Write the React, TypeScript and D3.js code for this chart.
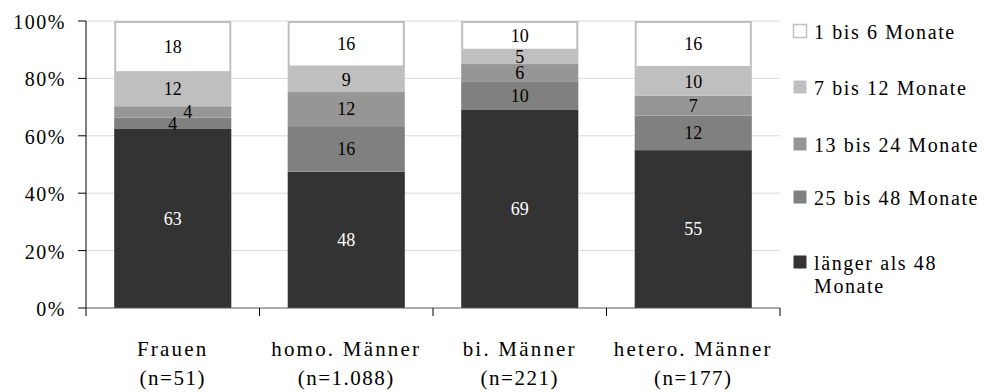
import React from "react";
import * as d3 from "d3";

const categories = ["Frauen", "homo. Männer", "bi. Männer", "hetero. Männer"];
const sampleSizes = ["(n=51)", "(n=1.088)", "(n=221)", "(n=177)"];
const seriesKeys = ["laenger48", "m25bis48", "m13bis24", "m7bis12", "m1bis6"];
const seriesNames = ["länger als 48 Monate", "25 bis 48 Monate", "13 bis 24 Monate", "7 bis 12 Monate", "1 bis 6 Monate"];
const laenger48 = [63, 48, 69, 55];
const m25bis48 = [4, 16, 10, 12];
const m13bis24 = [4, 12, 6, 7];
const m7bis12 = [12, 9, 5, 10];
const m1bis6 = [18, 16, 10, 16];
const yTicks = [0, 20, 40, 60, 80, 100];

const fills = ["#333333", "#808080", "#969696", "#bfbfbf", "#ffffff"];
const strokes = ["none", "none", "none", "none", "#bfbfbf"];
const labelColors = ["#ffffff", "#000000", "#000000", "#000000", "#000000"];

const W = 987;
const H = 392;
const left = 86;
const right = 780;
const top = 21;
const bottom = 308;
const FONT = "'Liberation Serif', 'Times New Roman', serif";

export default function App() {
  const series = [laenger48, m25bis48, m13bis24, m7bis12, m1bis6];
  const rows = categories.map((c, i) => {
    const r: any = { cat: c };
    seriesKeys.forEach((k, j) => (r[k] = series[j][i]));
    return r;
  });
  const stacked = d3.stack<any>().keys(seriesKeys).offset(d3.stackOffsetExpand)(rows);

  const x = d3.scaleBand<string>().domain(categories).range([left, right]).paddingInner(0.325).paddingOuter(0.1625);
  const y = d3.scaleLinear().domain([0, 1]).range([bottom, top]);
  const step = x.step();
  const boundaries = d3.range(categories.length + 1).map((i) => left + i * step);

  const legendBaselines = [39, 95, 152, 205, 270];
  const legendOrder = [4, 3, 2, 1, 0];

  return (
    <svg width={W} height={H} style={{ position: "absolute", left: 0, top: 0, background: "#fff" }} fontFamily={FONT}>
      {yTicks.filter((t) => t > 0).map((t) => (
        <line key={"g" + t} x1={left} x2={right} y1={y(t / 100)} y2={y(t / 100)} stroke="#d9d9d9" strokeWidth={1} />
      ))}
      {stacked.map((layer, j) =>
        layer.map((d, i) => {
          const x0 = x(categories[i])!;
          const y0 = y(d[1]);
          const h = y(d[0]) - y(d[1]);
          const s = strokes[j] !== "none";
          return (
            <rect key={`b${j}-${i}`} x={x0 + (s ? 1 : 0)} y={y0 + (s ? 1 : 0)}
              width={x.bandwidth() - (s ? 2 : 0)} height={h - (s ? 1 : 0)}
              fill={fills[j]} stroke={strokes[j]} strokeWidth={2} />
          );
        })
      )}
      {stacked.map((layer, j) =>
        layer.map((d, i) => {
          const cx = x(categories[i])! + x.bandwidth() / 2;
          const h = y(d[0]) - y(d[1]);
          let dx = 0;
          if (j > 0) {
            const prev = stacked[j - 1][i];
            const hp = y(prev[0]) - y(prev[1]);
            if (h < 13 && hp < 13) dx = 15;
          }
          const cy = (y(d[0]) + y(d[1])) / 2;
          return (
            <text key={`l${j}-${i}`} x={cx + dx} y={cy} dy="0.35em" textAnchor="middle" fontSize={18}
              fill={labelColors[j]}>
              {series[j][i]}
            </text>
          );
        })
      )}
      <line x1={left} x2={left} y1={top} y2={bottom} stroke="#000" strokeWidth={1} />
      {yTicks.map((t) => (
        <g key={"y" + t}>
          <line x1={left - 8} x2={left} y1={y(t / 100)} y2={y(t / 100)} stroke="#000" />
          <text x={66} y={y(t / 100)} dy="0.4em" textAnchor="end" fontSize={20} letterSpacing={1.5} fill="#000">
            {t + "%"}
          </text>
        </g>
      ))}
      <line x1={left} x2={right} y1={bottom} y2={bottom} stroke="#595959" strokeWidth={1} />
      {boundaries.map((b, i) => (
        <line key={"xt" + i} x1={b} x2={b} y1={bottom} y2={bottom + 8} stroke="#000" />
      ))}
      {categories.map((c, i) => {
        const cx = x(c)! + x.bandwidth() / 2;
        return (
          <g key={"c" + i}>
            <text x={cx} y={356} textAnchor="middle" fontSize={21} letterSpacing={2.2} fill="#000">{c}</text>
            <text x={cx} y={385} textAnchor="middle" fontSize={21} letterSpacing={1.5} fill="#000">{sampleSizes[i]}</text>
          </g>
        );
      })}
      {legendOrder.map((j, k) => {
        const by = legendBaselines[k];
        const name = seriesNames[j];
        const lines = name === "länger als 48 Monate" ? ["länger als 48", "Monate"] : [name];
        return (
          <g key={"lg" + j}>
            <rect x={793.5} y={by - 14.5} width={13} height={13} fill={fills[j]}
              stroke={strokes[j] === "none" ? "none" : strokes[j]} strokeWidth={1.5} />
            {lines.map((ln, li) => (
              <text key={li} x={814} y={by + li * 23} fontSize={20} letterSpacing={1.6} fill="#000">{ln}</text>
            ))}
          </g>
        );
      })}
    </svg>
  );
}
